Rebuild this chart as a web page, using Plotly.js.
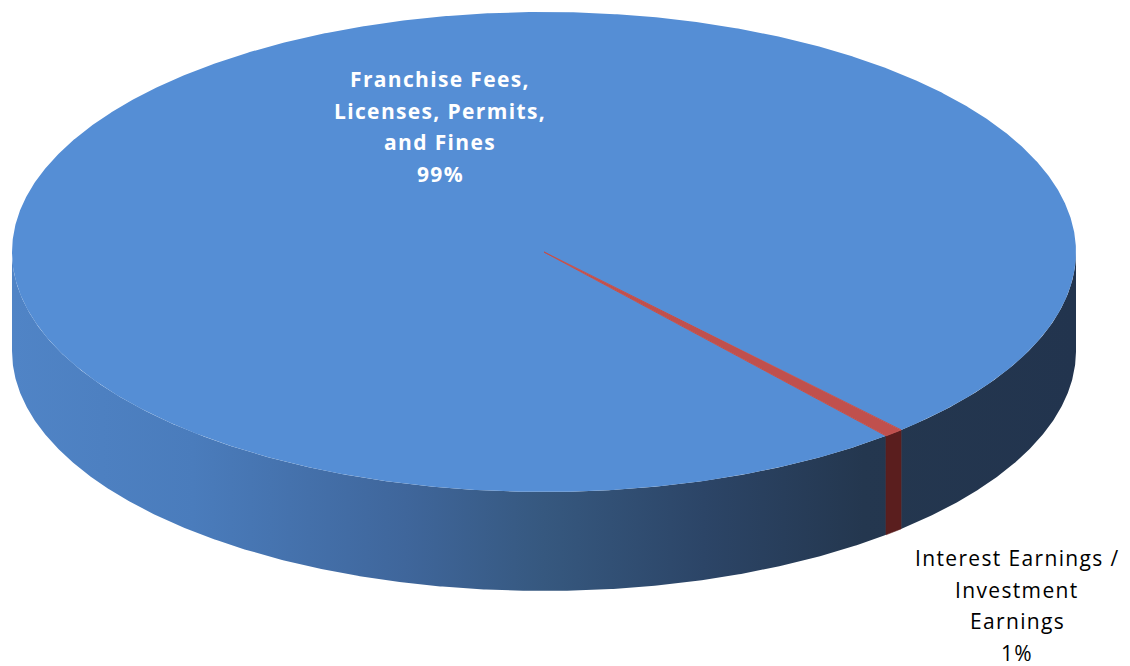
<!DOCTYPE html>
<html><head><meta charset="utf-8">
<script src="https://cdn.plot.ly/plotly-3.0.1.min.js"></script>
<style>html,body{margin:0;padding:0;background:#fff}#chart{width:1130px;height:666px}
.annotation-text{letter-spacing:1.35px}</style>
</head><body><div id="chart"></div>
<script>
// ---- data ----
const categories = ['Franchise Fees,\nLicenses, Permits,\nand Fines', 'Interest Earnings /\nInvestment\nEarnings'];
const values = [99.4, 0.6];

// ---- styles ----
const topColors = ['#558ed5', '#c0504d'];
const sideColors = ['gradient', '#5a1e1e'];
const wallScale = [[0, '#5084c6'], [0.17, '#4a7cbc'], [0.37, '#3f669b'], [0.5, '#36587f'], [0.65, '#2c4567'], [0.8, '#24374f'], [1, '#22344e']];
const labelColors = ['#ffffff', '#000000'];
const labelBold = [true, false];
const labelPos = [[440, 79], [1017, 558]];
const LINE_GAP = 31.5;
const FONT = '"Open Sans", Lato, sans-serif';

// ---- geometry (layout) ----
const CX = 544, CY = 252, RX = 532, RY = 240, DEPTH = 99, ROT = 140;

function pt(phi, dy) {
  const r = phi * Math.PI / 180;
  return [CX + RX * Math.sin(r), CY - RY * Math.cos(r) + (dy || 0)];
}
function arc(a, b, dy) {
  const n = Math.max(2, Math.ceil(Math.abs(b - a) / 0.25) + 1);
  const out = [];
  for (let i = 0; i < n; i++) out.push(pt(a + (b - a) * i / (n - 1), dy));
  return out;
}
const total = values.reduce((s, v) => s + v, 0);
let cum = 0;
const slices = values.map((v, i) => {
  const s = ROT + 360 * cum / total;
  cum += v;
  const e = ROT + 360 * cum / total;
  return { s, e, i };
});

const traces = [];
function poly(points, fillcolor, grad, lineColor, lw) {
  const t = {
    type: 'scatter', mode: 'lines', fill: 'toself',
    x: points.map(p => p[0]), y: points.map(p => p[1]),
    line: { width: lw || 0, color: lineColor || fillcolor || 'rgba(0,0,0,0)' },
    hoverinfo: 'skip', showlegend: false
  };
  if (grad) {
    t.fillgradient = { type: 'horizontal', colorscale: wallScale, start: CX - RX, stop: CX + RX };
  } else {
    t.fillcolor = fillcolor;
  }
  traces.push(t);
}

// side walls (front half only)
slices.forEach(sl => {
  for (let k = 0; k < 3; k++) {
    const a = Math.max(sl.s, 90 + 360 * k), b = Math.min(sl.e, 270 + 360 * k);
    if (b > a) {
      const pts = arc(a, b, 0).concat(arc(b, a, DEPTH));
      pts.push(pts[0]);
      if (sideColors[sl.i] === 'gradient') poly(pts, null, true);
      else poly(pts, sideColors[sl.i], false, sideColors[sl.i], 0.5);
    }
  }
});
// top faces
slices.forEach(sl => {
  const pts = [[CX, CY]].concat(arc(sl.s, sl.e, 0));
  pts.push([CX, CY]);
  poly(pts, topColors[sl.i], false, topColors[sl.i], sl.i === 1 ? 1 : 0);
});

// labels
const annotations = [];
categories.forEach((c, i) => {
  const lines = c.split('\n').concat([Math.round(100 * values[i] / total) + '%']);
  lines.forEach((ln, j) => {
    annotations.push({
      x: labelPos[i][0], y: labelPos[i][1] + j * LINE_GAP, xref: 'x', yref: 'y',
      text: labelBold[i] ? '<b>' + ln + '</b>' : ln, showarrow: false,
      xanchor: 'center', yanchor: 'middle',
      font: { family: FONT, size: 21, color: labelColors[i] }
    });
  });
});

Plotly.newPlot('chart', traces, {
  width: 1130, height: 666,
  margin: { l: 0, r: 0, t: 0, b: 0 },
  paper_bgcolor: '#ffffff', plot_bgcolor: '#ffffff',
  xaxis: { range: [0, 1130], visible: false, fixedrange: true },
  yaxis: { range: [666, 0], visible: false, fixedrange: true },
  showlegend: false, annotations
}, { staticPlot: true });
</script></body></html>
